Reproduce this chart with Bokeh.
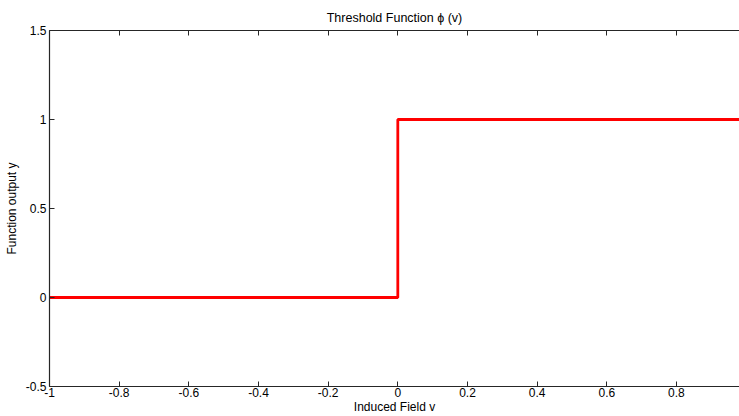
from bokeh.plotting import figure
from bokeh.models import Range1d, FixedTicker, LinearAxis
from bokeh.embed import file_html
from bokeh.resources import INLINE

# Data: threshold (step) function
v_vals = [-1.0, 0.0, 0.0, 1.0]
y_vals = [0.0, 0.0, 1.0, 1.0]

x_ticks = [-1, -0.8, -0.6, -0.4, -0.2, 0, 0.2, 0.4, 0.6, 0.8]
x_tick_labels = ["-1", "-0.8", "-0.6", "-0.4", "-0.2", "0", "0.2", "0.4", "0.6", "0.8"]
y_ticks = [-0.5, 0, 0.5, 1, 1.5]
y_tick_labels = ["-0.5", "0", "0.5", "1", "1.5"]

title_text = "Threshold Function \u03d5 (v)"
x_label = "Induced Field v"
y_label = "Function output y"

FONT = "Liberation Sans"
AXC = "#262626"
FS = "12px"

p = figure(width=739, height=416, output_backend="svg", toolbar_location=None,
           x_range=Range1d(-1, 0.981), y_range=Range1d(-0.5, 1.5),
           x_axis_location=None, y_axis_location=None,
           min_border_left=49, min_border_right=0, min_border_top=30, min_border_bottom=29)
p.outline_line_color = None
p.background_fill_color = "white"
p.border_fill_color = "white"
p.grid.visible = False

p.title.text = title_text
p.title.align = "center"
p.title.text_font = FONT
p.title.text_font_size = "12.5px"
p.title.text_font_style = "normal"
p.title.text_color = "black"
p.title.standoff = 12


def style(ax, ticks, labels, show_labels=True):
    ax.ticker = FixedTicker(ticks=ticks)
    if show_labels:
        ax.major_label_overrides = {t: l for t, l in zip(ticks, labels)}
        ax.major_label_text_font_size = FS
    else:
        ax.major_label_overrides = {t: "" for t in ticks}
        ax.major_label_text_font_size = "1px"
    ax.axis_line_color = AXC
    ax.axis_line_width = 1.2
    ax.major_tick_line_color = AXC
    ax.major_tick_in = 5
    ax.major_tick_out = 0
    ax.minor_tick_line_color = None
    ax.major_label_text_font = FONT
    ax.major_label_text_color = "black"
    ax.major_label_standoff = 3
    ax.axis_label_text_font = FONT
    ax.axis_label_text_font_size = FS
    ax.axis_label_text_font_style = "normal"
    ax.axis_label_text_color = "black"


bx = LinearAxis(axis_label=x_label)
style(bx, x_ticks, x_tick_labels)
bx.major_label_standoff = 1
bx.axis_label_standoff = 0
p.add_layout(bx, "below")

lx = LinearAxis(axis_label=y_label)
style(lx, y_ticks, y_tick_labels)
lx.axis_label_standoff = 4
p.add_layout(lx, "left")

tx = LinearAxis()
style(tx, x_ticks, x_tick_labels, show_labels=False)
tx.major_label_standoff = 0
p.add_layout(tx, "above")

p.line(v_vals, y_vals, line_color="#ff0000", line_width=2.8)

open("out.html", "w").write(file_html(p, INLINE))
